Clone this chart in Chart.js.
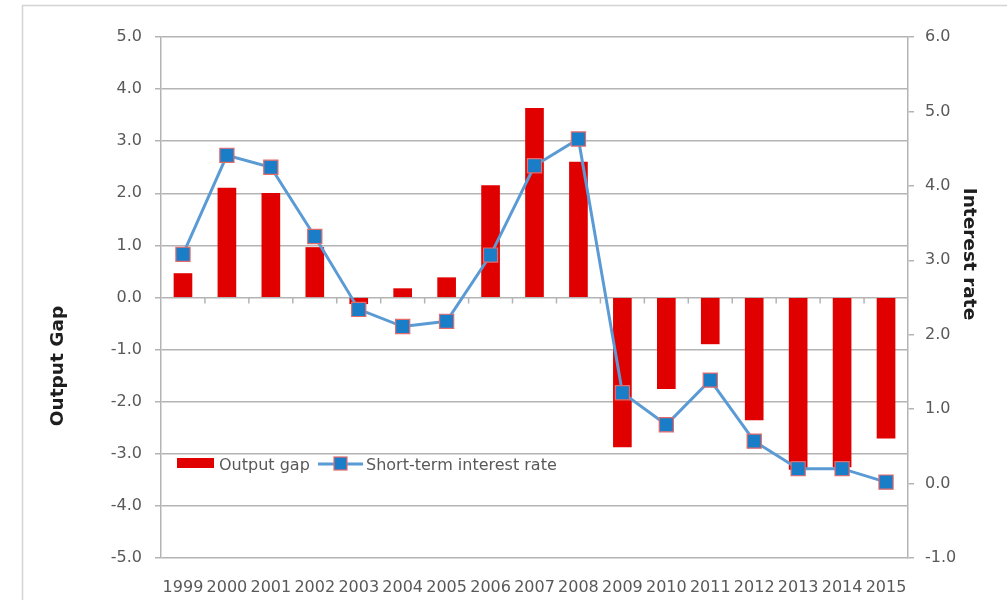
<!DOCTYPE html>
<html>
<head>
<meta charset="utf-8">
<script src="https://cdn.jsdelivr.net/npm/chart.js@4.4.1/dist/chart.umd.min.js"></script>
<style>
  html, body { margin: 0; padding: 0; background: #fff; }
  #wrap { width: 1007px; height: 600px; position: relative; }
</style>
</head>
<body>
<div id="wrap"><canvas id="chart" width="1007" height="600"></canvas></div>
<script>
const years = ['1999', '2000', '2001', '2002', '2003', '2004', '2005', '2006', '2007',
               '2008', '2009', '2010', '2011', '2012', '2013', '2014', '2015'];
const outputGap = [0.46, 2.10, 2.00, 0.96, -0.12, 0.17, 0.38, 2.15, 3.63,
                   2.60, -2.87, -1.75, -0.89, -2.35, -3.30, -3.25, -2.70];
const interestRate = [3.08, 4.41, 4.25, 3.32, 2.34, 2.11, 2.18, 3.07, 4.27,
                      4.63, 1.22, 0.79, 1.39, 0.57, 0.20, 0.20, 0.02];
const gapTicks = [-5, -4, -3, -2, -1, 0, 1, 2, 3, 4, 5];
const rateTicks = [-1, 0, 1, 2, 3, 4, 5, 6];

const FONT = 'DejaVu Sans';
const TICK_COLOR = '#595959';
const GRID_COLOR = '#b4b4b4';
const BAR_RED = '#e00000';
const LINE_BLUE = '#5b9bd5';
const MARK_BLUE = '#1a7dc8';
const MARK_EDGE = '#e56a6a';

// outer frame, axis titles, category ticks on the zero line, in-plot legend
const decorations = {
  id: 'decorations',
  beforeDraw(chart) {
    const ctx = chart.ctx;
    ctx.save();
    ctx.strokeStyle = '#d4d4d4';
    ctx.lineWidth = 1.5;
    ctx.beginPath();
    ctx.moveTo(22.5, 610);
    ctx.lineTo(22.5, 5.5);
    ctx.lineTo(1010, 5.5);
    ctx.stroke();
    ctx.restore();
  },
  afterDatasetsDraw(chart) {
    const ctx = chart.ctx;
    const area = chart.chartArea;
    const x = chart.scales.x;
    const y = chart.scales.y;
    const y0 = y.getPixelForValue(0);

    ctx.save();
    // category tick marks hanging below the zero line
    ctx.strokeStyle = GRID_COLOR;
    ctx.lineWidth = 1.5;
    ctx.beginPath();
    for (let i = 1; i < years.length; i++) {
      const bx = (x.getPixelForValue(i - 1) + x.getPixelForValue(i)) / 2;
      ctx.moveTo(bx, y0);
      ctx.lineTo(bx, y0 + 6);
    }
    ctx.stroke();

    // axis titles
    ctx.fillStyle = '#1e1e1e';
    ctx.font = 'bold 18.5px "' + FONT + '"';
    ctx.textAlign = 'center';
    ctx.textBaseline = 'middle';
    ctx.save();
    ctx.translate(58, 366);
    ctx.rotate(-Math.PI / 2);
    ctx.fillText('Output Gap', 0, 0);
    ctx.restore();
    ctx.save();
    ctx.translate(969, 254);
    ctx.rotate(Math.PI / 2);
    ctx.fillText('Interest rate', 0, 0);
    ctx.restore();

    // legend
    const ly = 466;
    const lx = area.left + 16;
    ctx.fillStyle = BAR_RED;
    ctx.fillRect(lx, ly - 8, 37, 10);
    ctx.font = '16px "' + FONT + '"';
    ctx.fillStyle = TICK_COLOR;
    ctx.textAlign = 'left';
    ctx.fillText(chart.data.datasets[0].label, lx + 42, ly);
    const sx = lx + 141;
    ctx.strokeStyle = LINE_BLUE;
    ctx.lineWidth = 3;
    ctx.beginPath();
    ctx.moveTo(sx, ly - 2);
    ctx.lineTo(sx + 45, ly - 2);
    ctx.stroke();
    ctx.fillStyle = MARK_BLUE;
    ctx.strokeStyle = MARK_EDGE;
    ctx.lineWidth = 1.2;
    ctx.fillRect(sx + 16, ly - 9, 13, 13);
    ctx.strokeRect(sx + 16, ly - 9, 13, 13);
    ctx.fillStyle = TICK_COLOR;
    ctx.fillText(chart.data.datasets[1].label, sx + 48, ly);
    ctx.restore();
  }
};

new Chart(document.getElementById('chart'), {
  type: 'bar',
  data: {
    labels: years,
    datasets: [
      {
        label: 'Output gap',
        data: outputGap,
        yAxisID: 'y',
        backgroundColor: BAR_RED,
        barThickness: 18,
        order: 2
      },
      {
        label: 'Short-term interest rate',
        type: 'line',
        data: interestRate,
        yAxisID: 'y2',
        borderColor: LINE_BLUE,
        borderWidth: 3,
        pointStyle: 'rect',
        pointRadius: 10,
        pointBackgroundColor: MARK_BLUE,
        pointBorderColor: MARK_EDGE,
        pointBorderWidth: 1.2,
        tension: 0,
        order: 1
      }
    ]
  },
  options: {
    responsive: false,
    animation: false,
    layout: { padding: { top: 37, left: 0, right: 0, bottom: 0 }, autoPadding: false },
    plugins: {
      legend: { display: false },
      tooltip: { enabled: false }
    },
    scales: {
      x: {
        offset: true,
        grid: { display: false, drawTicks: false },
        border: { display: false },
        ticks: { color: TICK_COLOR, font: { family: FONT, size: 16 }, padding: 20, maxRotation: 0, autoSkip: false },
        afterFit(scale) { scale.height = 42; }
      },
      y: {
        position: 'left',
        min: gapTicks[0],
        max: gapTicks[gapTicks.length - 1],
        afterBuildTicks(scale) { scale.ticks = gapTicks.map(v => ({ value: v })); },
        grid: { color: GRID_COLOR, lineWidth: 1.5, tickLength: 6, tickColor: GRID_COLOR },
        border: { display: true, color: GRID_COLOR, width: 1.5 },
        ticks: {
          color: TICK_COLOR,
          font: { family: FONT, size: 16 },
          padding: 13,
          callback: v => Number(v).toFixed(1)
        },
        afterFit(scale) { scale.width = 161; }
      },
      y2: {
        position: 'right',
        min: rateTicks[0],
        max: rateTicks[rateTicks.length - 1],
        afterBuildTicks(scale) { scale.ticks = rateTicks.map(v => ({ value: v })); },
        grid: { drawOnChartArea: false, tickLength: 6, tickColor: GRID_COLOR, lineWidth: 1.5 },
        border: { display: true, color: GRID_COLOR, width: 1.5 },
        ticks: {
          color: TICK_COLOR,
          font: { family: FONT, size: 16 },
          padding: 11,
          callback: v => Number(v).toFixed(1)
        },
        afterFit(scale) { scale.width = 99; }
      }
    }
  },
  plugins: [decorations]
});
</script>
</body>
</html>
